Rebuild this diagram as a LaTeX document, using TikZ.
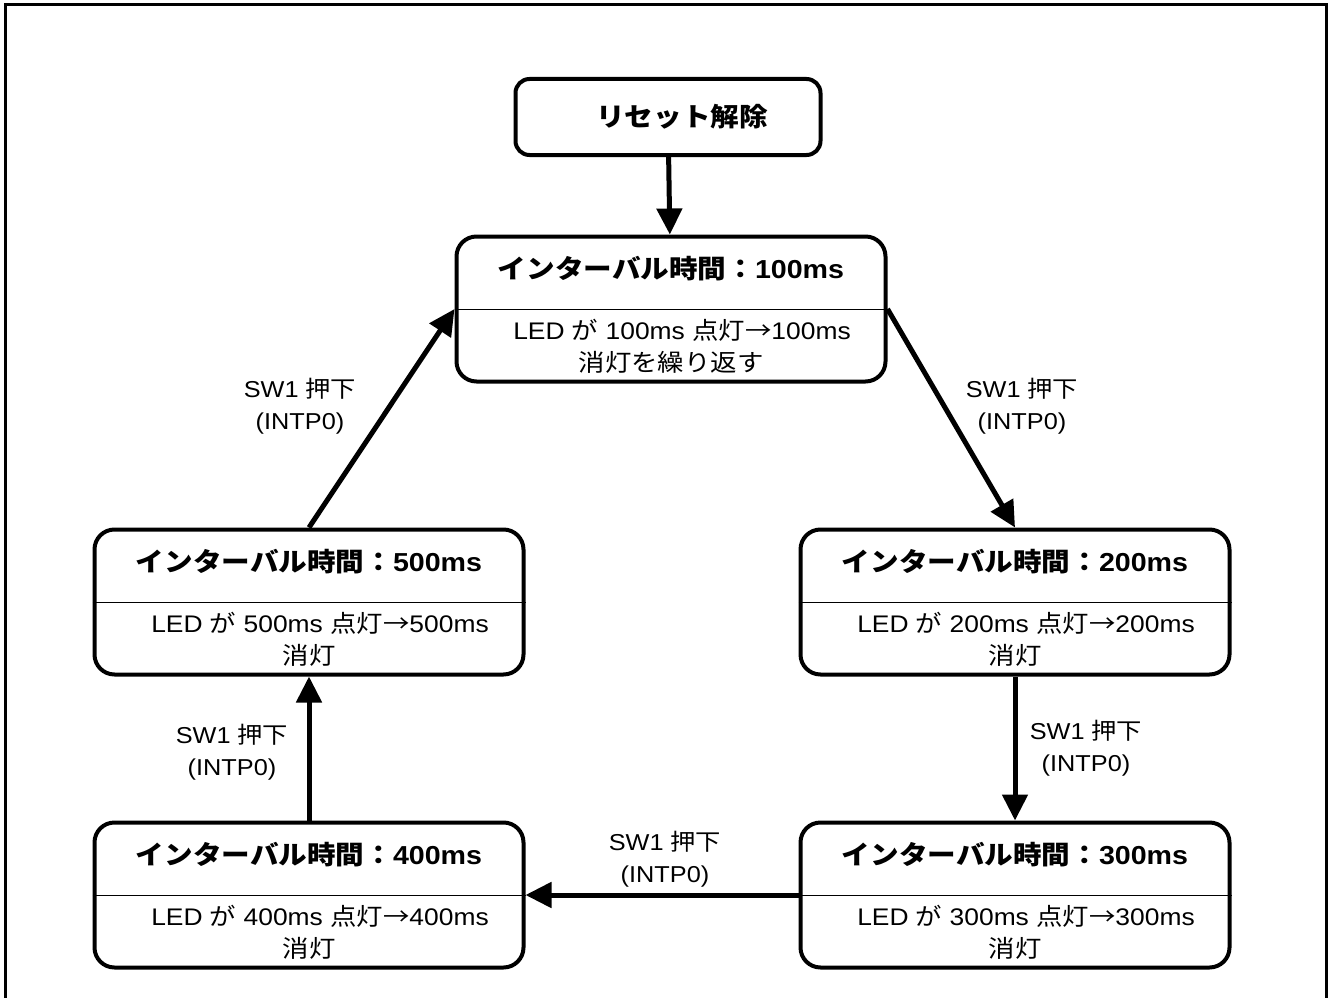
\documentclass[tikz,border=0pt]{standalone}
\usepackage{fontspec}
\setmainfont{Liberation Sans}[FakeStretch=1.1]
\newfontfamily\jpfont{Noto Sans CJK JP}[FakeStretch=1.1]
\newcommand\JP[1]{{\jpfont #1}}
\usetikzlibrary{arrows.meta}
\tikzset{
  frame/.style={line width=3pt},
  statebox/.style={draw, line width=4pt, rounded corners=20pt, minimum width=429pt, minimum height=145pt, inner sep=0pt},
  resetbox/.style={draw, line width=4pt, rounded corners=14pt, minimum width=305pt, minimum height=76pt, inner sep=0pt},
  divider/.style={line width=1pt},
  titletext/.style={font=\fontsize{26}{30}\selectfont\bfseries, align=center, inner sep=0pt},
  bodytext/.style={font=\fontsize{24}{32}\selectfont, align=center, inner sep=0pt},
  lbl/.style={font=\fontsize{23}{32}\selectfont, align=center, inner sep=0pt},
  conn/.style={line width=5pt, -{Triangle[length=26pt,width=25pt]}},
}
\begin{document}
\begin{tikzpicture}[x=1pt,y=-1pt]
\useasboundingbox (0,0) rectangle (1328,998);
% outer frame (bottom edge outside the picture)
\draw[frame] (5,1005) -- (5,5) -- (1326,5) -- (1326,1005);

\node[resetbox] (reset) at (668,117) {};
\node[font=\fontsize{26}{30}\selectfont\bfseries\jpfont, inner sep=0pt] (resettext) at (682,117) {リセット解除};

\node[statebox] (s100) at (671,309) {};
\node[statebox] (s200) at (1015,602) {};
\node[statebox] (s300) at (1015,895) {};
\node[statebox] (s400) at (309,895) {};
\node[statebox] (s500) at (309,602) {};

\foreach \s/\v/\last in {s100/100/\JP{消灯を繰り返す}, s200/200/\JP{消灯}, s300/300/\JP{消灯}, s400/400/\JP{消灯}, s500/500/\JP{消灯}}{
  \draw[divider] (\s.west) -- (\s.east);
  \node[titletext] (\s title) at ([yshift=40pt]\s.center) {\JP{インターバル時間：}\v ms};
  \node[bodytext] (\s body) at ([yshift=-37pt]\s.center) {\hspace*{22pt}LED \JP{が} \v ms \JP{点灯→}\v ms\\\last};
}

\draw[conn] (reset) -- (s100);
\draw[conn] (s100.east) -- (s200.north);
\draw[conn] (s200.south) -- (s300.north);
\draw[conn] (s300.west) -- (s400.east);
\draw[conn] (s400.north) -- (s500.south);
\draw[conn] (s500.north) -- (s100.west);

\node[lbl] (l1) at (1022,406) {SW1 \JP{押下}\\(INTP0)};
\node[lbl] (l2) at (1086,748) {SW1 \JP{押下}\\(INTP0)};
\node[lbl] (l3) at (665,859) {SW1 \JP{押下}\\(INTP0)};
\node[lbl] (l4) at (232,752) {SW1 \JP{押下}\\(INTP0)};
\node[lbl] (l5) at (300,406) {SW1 \JP{押下}\\(INTP0)};
\end{tikzpicture}
\end{document}
